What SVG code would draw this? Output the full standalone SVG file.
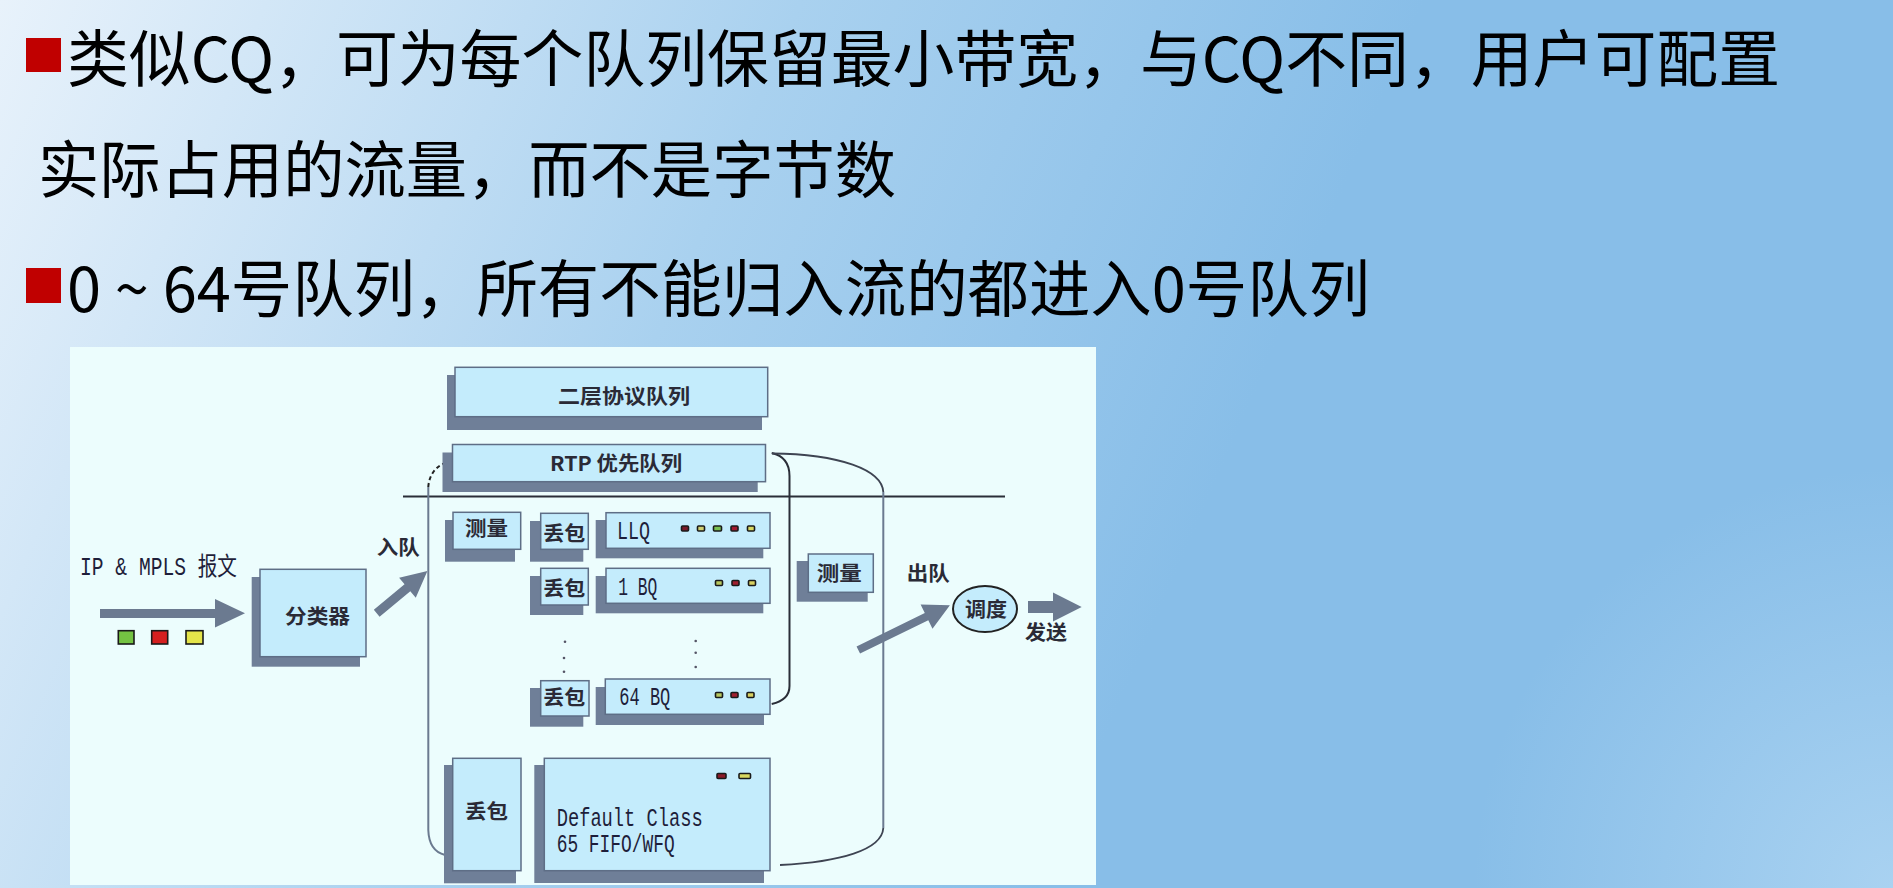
<svg xmlns="http://www.w3.org/2000/svg" width="1893" height="888" viewBox="0 0 1893 888">
<defs>
<linearGradient id="bg" gradientUnits="userSpaceOnUse" x1="0" y1="0" x2="1500" y2="650">
<stop offset="0" stop-color="#e8f2fb"/>
<stop offset="0.45" stop-color="#a9d1ef"/>
<stop offset="0.8" stop-color="#88bee8"/>
<stop offset="1" stop-color="#88bee8"/>
</linearGradient>
<radialGradient id="br" gradientUnits="userSpaceOnUse" cx="1893" cy="888" r="420">
<stop offset="0" stop-color="#a9d2f1" stop-opacity="1"/>
<stop offset="1" stop-color="#a9d2f1" stop-opacity="0"/>
</radialGradient>
<style>
.title{font-family:"Noto Sans CJK SC","Noto Sans",sans-serif;font-size:62px;fill:#000}
.bullet{fill:#c00000}
.sh{fill:#6f7f98}
.bx{fill:#c4ecfc;stroke:#5e6e86;stroke-width:1.5}
.cn{font-family:"Noto Sans CJK SC",sans-serif;font-size:20px;font-weight:bold;fill:#2a2a36}
.mono{font-family:"Liberation Mono","Noto Sans CJK SC",monospace;font-size:25px;fill:#1e1e3a}
.arr{fill:#6b7a90}
.ln{fill:none;stroke:#6b7a90;stroke-width:2}
.dk{fill:none;stroke:#2a2e38;stroke-width:2}
.dot{stroke:#1a1a1a;stroke-width:1.6}
.vd{fill:#556}
</style>
</defs>
<rect x="0" y="0" width="1893" height="888" fill="url(#bg)"/>
<rect x="0" y="0" width="1893" height="888" fill="url(#br)"/>

<g id="slide-text">
<rect class="bullet" x="26" y="38" width="35" height="34"/>
<text class="title" x="67" y="82" textLength="1713" lengthAdjust="spacingAndGlyphs">类似CQ，可为每个队列保留最小带宽，与CQ不同，用户可配置</text>
<text class="title" x="38" y="193" textLength="858" lengthAdjust="spacingAndGlyphs">实际占用的流量，而不是字节数</text>
<rect class="bullet" x="26" y="268" width="35" height="35"/>
<text class="title" x="67" y="312" textLength="1303" lengthAdjust="spacingAndGlyphs">0 ~ 64号队列，所有不能归入流的都进入0号队列</text>
</g>

<rect id="panel" x="70" y="347" width="1026" height="538" fill="#ecfdfd"/>

<g id="connectors">
<path class="dk" d="M403,496.5 L1005,496.5"/>
<path d="M446,462.7 C436,466 429,475 428.3,487" fill="none" stroke="#222" stroke-width="2" stroke-dasharray="4 3"/>
<path class="ln" d="M428.3,487 L428.3,830 Q429,851 445,855"/>
<path class="dk" d="M771.7,453 Q789.5,457 789.5,476 L789.5,686 Q789.5,700 771.7,704"/>
<path d="M772,453.5 C840,454 882,470 883.3,492" fill="none" stroke="#3e4452" stroke-width="1.8"/>
<path class="ln" d="M883.3,492 L883.3,828"/>
<path d="M883.3,828 C882,850 840,862 780,865" fill="none" stroke="#3e4452" stroke-width="1.8"/>
<path class="arr" d="M100,609 L215,609 L215,599 L245,613.3 L215,627.5 L215,618 L100,618 Z"/>
<path class="arr" transform="translate(376.7,613.3) rotate(-39.8)" d="M0,-4.5 L40,-4.5 L40,-13 L66,0 L40,13 L40,4.5 L0,4.5 Z"/>
<path class="arr" transform="translate(858.3,650) rotate(-26.1)" d="M0,-4 L76,-4 L76,-13.5 L102,0 L76,13.5 L76,4 L0,4 Z"/>
<path class="arr" d="M1028,601 L1053,601 L1053,592.5 L1081.7,607 L1053,621.5 L1053,613 L1028,613 Z"/>
</g>

<g id="input">
<text class="mono" x="80" y="575" font-size="24" textLength="157" lengthAdjust="spacingAndGlyphs">IP &amp; MPLS 报文</text>
<rect class="dot" x="118.3" y="630.7" width="15.7" height="13.3" fill="#74c242"/>
<rect class="dot" x="151.7" y="630.7" width="16" height="13.3" fill="#d41f1f"/>
<rect class="dot" x="186" y="630.7" width="17" height="13.3" fill="#e4e44a"/>
</g>

<g id="classifier">
<rect class="sh" x="251.7" y="577" width="108.3" height="89.7"/>
<rect class="bx" x="260" y="569.3" width="106" height="87.4"/>
<text class="cn" x="285" y="624" font-size="22" textLength="65" lengthAdjust="spacingAndGlyphs">分类器</text>
</g>

<g id="enqueue-label"><text class="cn" x="376.7" y="555" font-size="21" textLength="43" lengthAdjust="spacingAndGlyphs">入队</text></g>

<g id="l2-queue">
<rect class="sh" x="447" y="375" width="315" height="55"/>
<rect class="bx" x="455" y="367.3" width="312.7" height="49.4"/>
<text class="cn" x="558" y="404" font-size="18" textLength="132" lengthAdjust="spacingAndGlyphs">二层协议队列</text>
</g>

<g id="rtp-queue">
<rect class="sh" x="442.5" y="452.5" width="315.2" height="39.5"/>
<rect class="bx" x="452.5" y="444.5" width="313" height="37.2"/>
<text class="cn" x="550" y="471" font-size="18" textLength="132" lengthAdjust="spacingAndGlyphs">RTP 优先队列</text>
</g>

<g id="meter-left">
<rect class="sh" x="445" y="520" width="70" height="41.7"/>
<rect class="bx" x="453" y="512.3" width="67.7" height="37"/>
<text class="cn" x="465" y="536" font-size="21" textLength="43" lengthAdjust="spacingAndGlyphs">测量</text>
</g>

<g id="drop-llq">
<rect class="sh" x="530" y="521" width="53.3" height="40.7"/>
<rect class="bx" x="540.7" y="513.3" width="47.6" height="36"/>
<text class="cn" x="543.3" y="541" font-size="22" textLength="42" lengthAdjust="spacingAndGlyphs">丢包</text>
</g>

<g id="llq">
<rect class="sh" x="595.7" y="520" width="167.6" height="38.3"/>
<rect class="bx" x="606" y="512.7" width="164" height="35.6"/>
<text class="mono" x="617" y="539.3" textLength="33" lengthAdjust="spacingAndGlyphs">LLQ</text>
<rect class="dot" x="681.5" y="526" width="7" height="5" rx="1" fill="#7a1a2a"/>
<rect class="dot" x="697.5" y="526" width="7" height="5" rx="1" fill="#d0d070"/>
<rect class="dot" x="713.5" y="526" width="8" height="5" rx="1" fill="#78c050"/>
<rect class="dot" x="731" y="526" width="7" height="5" rx="1" fill="#a01a30"/>
<rect class="dot" x="747.5" y="526" width="7" height="5" rx="1" fill="#d8d860"/>
</g>

<g id="drop-1bq">
<rect class="sh" x="530" y="576" width="53.3" height="39"/>
<rect class="bx" x="540.7" y="568.3" width="47.6" height="36.7"/>
<text class="cn" x="543.3" y="596" font-size="22" textLength="42" lengthAdjust="spacingAndGlyphs">丢包</text>
</g>

<g id="bq1">
<rect class="sh" x="595.7" y="576" width="167.6" height="37.3"/>
<rect class="bx" x="606" y="568.3" width="164" height="35"/>
<text class="mono" x="618.3" y="595" textLength="39" lengthAdjust="spacingAndGlyphs">1 BQ</text>
<rect class="dot" x="715.5" y="580.5" width="7" height="5" rx="1" fill="#b8c860"/>
<rect class="dot" x="732" y="580.5" width="7" height="5" rx="1" fill="#a02030"/>
<rect class="dot" x="748.5" y="580.5" width="7" height="5" rx="1" fill="#d8d060"/>
</g>

<g id="ellipsis">
<circle class="vd" cx="565" cy="641.7" r="1.3"/>
<circle class="vd" cx="564" cy="658" r="1.3"/>
<circle class="vd" cx="564" cy="671.7" r="1.3"/>
<circle class="vd" cx="695.7" cy="641" r="1.3"/>
<circle class="vd" cx="695.7" cy="652.7" r="1.3"/>
<circle class="vd" cx="695.7" cy="667" r="1.3"/>
</g>

<g id="drop-64bq">
<rect class="sh" x="530" y="688" width="53.3" height="38.7"/>
<rect class="bx" x="540.7" y="680.7" width="48.3" height="35.3"/>
<text class="cn" x="543.3" y="705" font-size="22" textLength="42" lengthAdjust="spacingAndGlyphs">丢包</text>
</g>

<g id="bq64">
<rect class="sh" x="595.7" y="687" width="168.3" height="38"/>
<rect class="bx" x="605.3" y="679" width="164.7" height="35.3"/>
<text class="mono" x="619.3" y="705" textLength="51" lengthAdjust="spacingAndGlyphs">64 BQ</text>
<rect class="dot" x="715.5" y="692.5" width="7" height="5" rx="1" fill="#b8c860"/>
<rect class="dot" x="731" y="692.5" width="7" height="5" rx="1" fill="#a02030"/>
<rect class="dot" x="747" y="692.5" width="7" height="5" rx="1" fill="#d8d060"/>
</g>

<g id="drop-default">
<rect class="sh" x="444" y="765" width="72" height="118.3"/>
<rect class="bx" x="452.7" y="758.3" width="68.3" height="112.4"/>
<text class="cn" x="465" y="819" font-size="21" textLength="43" lengthAdjust="spacingAndGlyphs">丢包</text>
</g>

<g id="default-class">
<rect class="sh" x="534.3" y="765" width="229.7" height="118"/>
<rect class="bx" x="544.3" y="758.3" width="225.7" height="112.4"/>
<rect class="dot" x="717" y="773.5" width="9" height="5" rx="1" fill="#8a1a28"/>
<rect class="dot" x="739" y="773.5" width="11.5" height="5" rx="1" fill="#d8d860"/>
<text class="mono" x="556.7" y="826" textLength="146" lengthAdjust="spacingAndGlyphs">Default Class</text>
<text class="mono" x="556.7" y="851.7" textLength="118" lengthAdjust="spacingAndGlyphs">65 FIFO/WFQ</text>
</g>

<g id="meter-right">
<rect class="sh" x="796.7" y="561" width="71" height="40.7"/>
<rect class="bx" x="808.3" y="554" width="65" height="38.3"/>
<text class="cn" x="816.7" y="581" font-size="21" textLength="45" lengthAdjust="spacingAndGlyphs">测量</text>
</g>

<g id="dequeue-label"><text class="cn" x="906.7" y="581" font-size="21" textLength="43" lengthAdjust="spacingAndGlyphs">出队</text></g>

<g id="scheduler">
<ellipse cx="985" cy="609" rx="32" ry="23" fill="#c4ecfc" stroke="#222" stroke-width="2"/>
<text class="cn" x="965" y="617" font-size="21" textLength="42" lengthAdjust="spacingAndGlyphs">调度</text>
</g>

<g id="send-label"><text class="cn" x="1025" y="640" font-size="21" textLength="42" lengthAdjust="spacingAndGlyphs">发送</text></g>
</svg>
